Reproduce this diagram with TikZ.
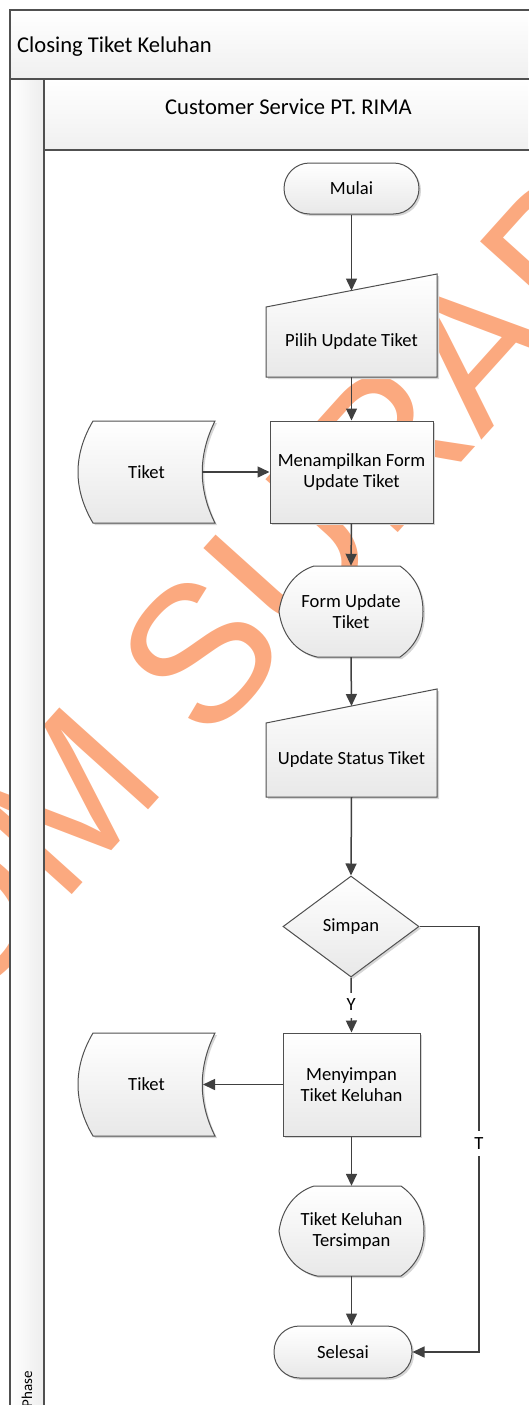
\documentclass[tikz,border=0pt]{standalone}
\usepackage{fontspec}
\setmainfont{Carlito}
\newfontfamily\markfont{Liberation Sans}
\usetikzlibrary{arrows.meta,shadows,shapes.geometric,calc}

\definecolor{ink}{RGB}{64,64,64}
\definecolor{edge}{RGB}{80,80,80}
\definecolor{wm}{RGB}{251,169,127}

\tikzset{
  shapefill/.style={draw=edge, line width=1pt, top color=white, bottom color=black!9,
    drop shadow={shadow xshift=2pt, shadow yshift=-2pt, fill=black!16, opacity=1}},
  txt/.style={font=\fontsize{18.6}{21.5}\selectfont, align=center, text=black},
  hdr/.style={font=\fontsize{22.6}{26}\selectfont, text=black},
  holder/.style={txt, draw=none, inner sep=0pt},
  procbox/.style={shapefill, txt, inner sep=2pt},
  terminal/.style={shapefill, txt, rounded corners=25.5pt},
  decision/.style={diamond, shapefill, txt, inner sep=0pt},
  flow/.style={draw=ink, line width=1.5pt, -{Triangle[length=12pt,width=11pt]}},
  edgelabel/.style={txt, fill=white, inner sep=0pt, minimum height=25pt, minimum width=12pt},
  poolline/.style={draw=edge, line width=1.4pt},
}

\begin{document}
\begin{tikzpicture}[x=1pt,y=-1pt]
\useasboundingbox (0,0) rectangle (528,1405);

% watermark behind everything
\begin{scope}
  \clip (0,0) rectangle (528,1405);
  \node[text=wm, font=\markfont\fontsize{195}{195}\selectfont, rotate=48, anchor=base west, inner sep=0pt]
    (wmark) at (-330,1342) {STIKOM SURABAYA};
\end{scope}

% pool and lane bands
\fill[top color=white, bottom color=black!6] (10,10) rectangle (528,79);
\fill[left color=white, right color=black!7] (10,79) rectangle (44,1405);
\fill[top color=white, bottom color=black!6] (44,79) rectangle (528,150);
\draw[poolline] (529,10) -- (10,10) -- (10,1406);
\draw[poolline] (10,79) -- (529,79);
\draw[poolline] (44,79) -- (44,1406);
\draw[poolline] (44,150) -- (529,150);

\node[hdr, anchor=base west, inner sep=0pt] (pool) at (17,52.5) {Closing Tiket Keluhan};
\node[hdr, anchor=base, inner sep=0pt] (lane) at (288.5,114.5) {Customer Service PT. RIMA};
\node[font=\fontsize{15}{18}\selectfont, rotate=90, anchor=base east, inner sep=0pt] (phase) at (32,1371) {Phase};

% start
\node[terminal, minimum width=135pt, minimum height=51pt] (start) at (351.5,188.5) {Mulai};

% manual input: Pilih Update Tiket
\path[shapefill] (266,307) -- (437,274) -- (437,377) -- (266,377) -- cycle;
\node[holder, minimum width=171pt, minimum height=70pt] (pilih) at (351.5,342) {Pilih Update Tiket};
\coordinate (pilih-in) at (351.5,290.5);

% process: Menampilkan Form Update Tiket
\node[procbox, minimum width=163pt, minimum height=102pt] (show) at (351.5,472) {Menampilkan Form\\Update Tiket};

% stored data: Tiket
\begin{scope}[shift={(78,421)}]
  \path[shapefill] (15,0) -- (137,0) .. controls (120,34) and (120,68) .. (137,102)
    -- (15,102) .. controls (-5,68) and (-5,34) .. (15,0) -- cycle;
\end{scope}
\node[holder, minimum width=137pt, minimum height=102pt] (tiket1) at (146.5,472) {Tiket};
\coordinate (tiket1-out) at (202,472);

% display: Form Update Tiket
\begin{scope}[shift={(279,566)}]
  \path[shapefill] (35,0) -- (121,0) .. controls (138,12) and (144,28) .. (144,45.5)
    .. controls (144,63) and (138,79) .. (121,91) -- (38,91)
    .. controls (16,86) and (3,68) .. (0,45.5) .. controls (3,23) and (16,6) .. (35,0) -- cycle;
\end{scope}
\node[holder, minimum width=144pt, minimum height=91pt] (form) at (351,611.5) {Form Update\\Tiket};

% manual input: Update Status Tiket
\path[shapefill] (266,723) -- (437,689) -- (437,797) -- (266,797) -- cycle;
\node[holder, minimum width=171pt, minimum height=74pt] (upd) at (351.5,760) {Update Status Tiket};
\coordinate (upd-in) at (351.5,706);

% decision
\node[decision, minimum width=136pt, minimum height=101pt] (simpan) at (351,926.5) {Simpan};

% process: Menyimpan Tiket Keluhan
\node[procbox, minimum width=137pt, minimum height=103pt] (store) at (351.5,1084.5) {Menyimpan\\Tiket Keluhan};

% stored data: Tiket
\begin{scope}[shift={(78,1033)}]
  \path[shapefill] (15,0) -- (137,0) .. controls (120,34) and (120,69) .. (137,103)
    -- (15,103) .. controls (-5,69) and (-5,34) .. (15,0) -- cycle;
\end{scope}
\node[holder, minimum width=137pt, minimum height=103pt] (tiket2) at (146.5,1084.5) {Tiket};
\coordinate (tiket2-out) at (203,1084.5);

% display: Tiket Keluhan Tersimpan
\begin{scope}[shift={(279,1186)}]
  \path[shapefill] (35,0) -- (122,0) .. controls (139,12) and (145,28) .. (145,45)
    .. controls (145,62) and (139,78) .. (122,90) -- (38,90)
    .. controls (16,85) and (3,67) .. (0,45) .. controls (3,23) and (16,6) .. (35,0) -- cycle;
\end{scope}
\node[holder, minimum width=145pt, minimum height=90pt] (saved) at (351.5,1231) {Tiket Keluhan\\Tersimpan};

% end
\node[terminal, minimum width=138pt, minimum height=52pt] (done) at (343,1352) {Selesai};

% connectors
\coordinate (tx) at (479,0);
\draw[flow] (start.south) -- (pilih-in);
\draw[flow] (pilih.south) -- (show.north);
\draw[flow] (tiket1-out) -- (show.west);
\draw[flow] (show.south) -- (form.north);
\draw[flow] (form.south) -- (upd-in);
\draw[flow] (upd.south) -- (simpan.north);
\draw[flow] (simpan.south) -- node[edgelabel] {Y} (store.north);
\draw[flow] (store.west) -- (tiket2-out);
\draw[flow] (store.south) -- (saved.north);
\draw[flow] (saved.south) -- (saved.south |- done.north);
\draw[flow] (simpan.east) -- (simpan.east -| tx) |- node[edgelabel, pos=0.255] {T} (done.east);
\end{tikzpicture}
\end{document}
